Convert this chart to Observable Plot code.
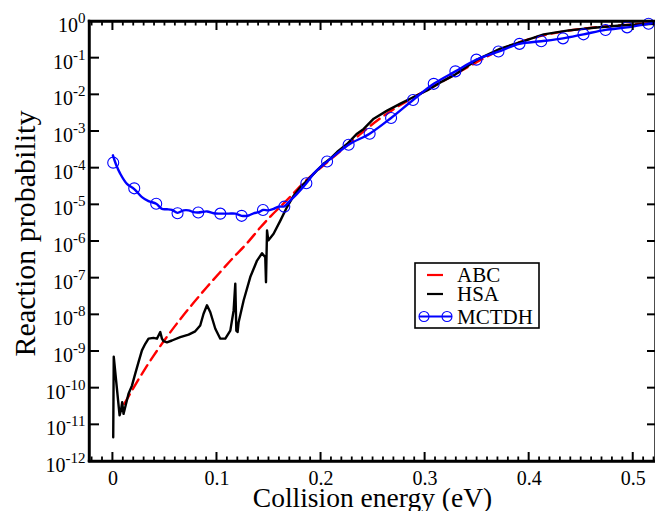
<!DOCTYPE html>
<html><head><meta charset="utf-8">
<script src="https://cdn.jsdelivr.net/npm/d3@7"></script>
<script src="https://cdn.jsdelivr.net/npm/@observablehq/plot@0.6"></script>
<style>html,body{margin:0;padding:0;background:#fff;overflow:hidden}</style>
</head><body><div id="chart"></div>
<script>
// ---- data (log10 of reaction probability) ----
const abcE = [0.0109, 0.0198, 0.0294, 0.039, 0.0519, 0.0647, 0.0775, 0.0904, 0.1032, 0.116, 0.1288, 0.1416, 0.1513, 0.1641, 0.1737, 0.1833, 0.195, 0.205, 0.215, 0.225, 0.235, 0.245, 0.255, 0.265, 0.275, 0.29, 0.305, 0.32, 0.34, 0.36, 0.38, 0.40, 0.42, 0.44, 0.46, 0.48, 0.50, 0.52];
const abcLog = [-10.43, -9.99, -9.54, -9.12, -8.60, -8.12, -7.67, -7.24, -6.83, -6.43, -6.05, -5.62, -5.32, -4.96, -4.68, -4.40, -4.10, -3.86, -3.62, -3.38, -3.14, -2.90, -2.68, -2.48, -2.30, -2.05, -1.82, -1.58, -1.26, -0.95, -0.68, -0.48, -0.34, -0.24, -0.17, -0.12, -0.08, -0.05];

const hsaE = [0.0003, 0.0008, 0.0064, 0.0077, 0.0089, 0.0102, 0.0118, 0.015, 0.0183, 0.0214, 0.0246, 0.0279, 0.0311, 0.0342, 0.039, 0.0423, 0.0455, 0.0471, 0.0487, 0.0519, 0.0567, 0.0647, 0.0727, 0.0791, 0.0839, 0.0871, 0.0904, 0.0936, 0.0984, 0.1032, 0.108, 0.1128, 0.116, 0.1176, 0.1186, 0.1198, 0.1208, 0.1256, 0.132, 0.1385, 0.1433, 0.1464, 0.1471, 0.1481, 0.1493, 0.1544, 0.1609, 0.1673, 0.1737, 0.1801, 0.1865, 0.1945, 0.2025, 0.2089, 0.2154, 0.225, 0.2346, 0.241, 0.2506, 0.2635, 0.2763, 0.289, 0.3019, 0.3147, 0.3275, 0.3404, 0.35, 0.3724, 0.3916, 0.414, 0.4365, 0.4621, 0.4878, 0.5195];
const hsaLog = [-11.34, -9.14, -10.74, -10.61, -10.38, -10.70, -10.52, -10.15, -9.93, -9.61, -9.29, -8.97, -8.79, -8.65, -8.63, -8.65, -8.47, -8.65, -8.72, -8.75, -8.70, -8.61, -8.54, -8.45, -8.29, -7.97, -7.74, -7.93, -8.38, -8.65, -8.65, -8.43, -7.88, -7.15, -8.43, -8.47, -8.20, -7.61, -6.97, -6.52, -6.32, -6.43, -7.11, -5.70, -5.97, -5.79, -5.43, -5.06, -4.75, -4.52, -4.34, -4.11, -3.88, -3.74, -3.56, -3.34, -3.06, -2.93, -2.65, -2.43, -2.24, -2.06, -1.88, -1.66, -1.47, -1.23, -1.04, -0.74, -0.56, -0.35, -0.25, -0.17, -0.11, -0.06];

const mctdhLineE = [0, 0.003, 0.007, 0.0135, 0.0205, 0.0279, 0.0342, 0.0416, 0.0471, 0.0519, 0.0567, 0.0621, 0.0679, 0.0727, 0.0775, 0.082, 0.0904, 0.0967, 0.1032, 0.1112, 0.1176, 0.1237, 0.1304, 0.1352, 0.14, 0.1442, 0.1496, 0.1544, 0.1592, 0.1647, 0.1705, 0.1769, 0.1859, 0.1929, 0.1993, 0.2058, 0.2265, 0.2467, 0.2673, 0.2884, 0.3083, 0.3291, 0.3493, 0.3705, 0.3907, 0.4116, 0.4325, 0.4522, 0.4734, 0.4941, 0.5147, 0.522];
const mctdhLineLog = [-3.65, -3.90, -4.15, -4.43, -4.57, -4.79, -4.90, -4.97, -5.11, -5.12, -5.14, -5.22, -5.15, -5.15, -5.20, -5.21, -5.18, -5.23, -5.24, -5.24, -5.24, -5.30, -5.29, -5.23, -5.20, -5.14, -5.15, -5.11, -5.05, -5.04, -4.88, -4.70, -4.41, -4.15, -3.97, -3.82, -3.36, -3.06, -2.63, -2.14, -1.70, -1.36, -1.04, -0.82, -0.61, -0.54, -0.46, -0.35, -0.23, -0.16, -0.06, -0.03];

const mctdhE = [0.0003, 0.0205, 0.0416, 0.0621, 0.082, 0.1032, 0.1237, 0.1442, 0.1647, 0.1859, 0.2058, 0.2265, 0.2467, 0.2673, 0.2884, 0.3083, 0.3291, 0.3493, 0.3705, 0.3907, 0.4116, 0.4325, 0.4522, 0.4734, 0.4941, 0.5147];
const mctdhLog = [-3.85, -4.55, -4.97, -5.23, -5.21, -5.24, -5.30, -5.14, -5.05, -4.41, -3.82, -3.36, -3.06, -2.63, -2.14, -1.70, -1.36, -1.04, -0.82, -0.61, -0.54, -0.46, -0.35, -0.23, -0.16, -0.06];

// ---- axes ----
const xMajor = [0, 0.1, 0.2, 0.3, 0.4, 0.5];
const xMinor = [-0.02,-0.01,0.01,0.02,0.03,0.04,0.05,0.06,0.07,0.08,0.09,0.11,0.12,0.13,0.14,0.15,0.16,0.17,0.18,0.19,0.21,0.22,0.23,0.24,0.25,0.26,0.27,0.28,0.29,0.31,0.32,0.33,0.34,0.35,0.36,0.37,0.38,0.39,0.41,0.42,0.43,0.44,0.45,0.46,0.47,0.48,0.49,0.51,0.52];
const yExponents = [-12,-11,-10,-9,-8,-7,-6,-5,-4,-3,-2,-1,0];
const yTicks = yExponents.map(e => Math.pow(10, e));
const xDomain = [-0.0225, 0.5214];
const yDomain = [1e-12, 1];

const series = [
  {name: "ABC", color: "#ff0000"},
  {name: "HSA", color: "#000000"},
  {name: "MCTDH", color: "#0000ff"}
];

const toRows = (E, Lg) => E.map((e, i) => ({E: e, p: Math.pow(10, Lg[i])}));
const abc = toRows(abcE, abcLog);
const hsa = toRows(hsaE, hsaLog);
const mLine = toRows(mctdhLineE, mctdhLineLog);
const mDots = toRows(mctdhE, mctdhLog);

const font = "'Liberation Serif', 'Times New Roman', serif";
const K = "black";
const W = 655, H = 511, mL = 89, mR = 0, mT = 21, mB = 50;

const chart = Plot.plot({
  width: W, height: H,
  marginLeft: mL, marginRight: mR, marginTop: mT, marginBottom: mB,
  style: {fontFamily: font, background: "white", color: "black"},
  x: {domain: xDomain, label: null},
  y: {type: "log", domain: yDomain, label: null},
  marks: [
    Plot.frame({stroke: K, strokeWidth: 2.4}),
    // tick labels
    Plot.axisX(xMajor, {anchor: "bottom", tickSize: 0, tickPadding: 9, fontSize: 20, fill: K, tickFormat: d => String(d), label: null}),
    Plot.axisY(yTicks, {anchor: "left", tickSize: 0, tickPadding: 4, dy: 4, fontSize: 20, fill: K, tickFormat: d => "10^" + Math.round(Math.log10(d)), label: null}),
    // series
    Plot.line(abc, {x: "E", y: "p", stroke: series[0].color, strokeWidth: 2.4, strokeDasharray: "11,6", curve: "monotone-x"}),
    Plot.line(hsa, {x: "E", y: "p", stroke: series[1].color, strokeWidth: 2.4, strokeLinejoin: "round"}),
    Plot.line(mLine, {x: "E", y: "p", stroke: series[2].color, strokeWidth: 2.4, curve: "catmull-rom"}),
    Plot.dot(mDots, {x: "E", y: "p", r: 5.5, stroke: series[2].color, strokeWidth: 1.1, fill: "none"}),
    // axis titles
    Plot.text(["Collision energy (eV)"], {frameAnchor: "bottom", text: d => d, dy: 36.4, lineAnchor: "middle", textAnchor: "middle", fontSize: 27.5, fill: K}),
    Plot.text(["Reaction probability"], {frameAnchor: "left", text: d => d, rotate: -90, dx: -64.6, dy: -8, lineAnchor: "middle", textAnchor: "middle", fontSize: 30, fill: K})
  ]
});

const svg = d3.select(chart);

// superscript exponents on y tick labels
svg.selectAll('g[aria-label="y-axis tick label"] text').each(function () {
  const m = /^10\^(-?\d+)$/.exec(this.textContent);
  if (!m) return;
  const t = d3.select(this);
  t.text("10");
  t.append("tspan").attr("dy", -9).attr("font-size", 15).text(m[1]);
});

// inward ticks: positions from scales with the plot's domains and ranges
const px = d3.scaleLinear().domain(xDomain).range([mL, W - mR]);
const py = d3.scaleLog().domain(yDomain).range([H - mB, mT]);
const Lx = px(xDomain[0]), Rx = px(xDomain[1]);
const By = py(yDomain[0]), Ty = py(yDomain[1]);
const ax = svg.append("g");
const seg = (x1, y1, x2, y2, w) => ax.append("line")
  .attr("x1", x1).attr("y1", y1).attr("x2", x2).attr("y2", y2)
  .attr("stroke", K).attr("stroke-width", w);
xMinor.forEach(v => { const x = px(v); seg(x, By, x, By - 4.5, 1.8); seg(x, Ty, x, Ty + 4.5, 1.8); });
xMajor.forEach(v => { const x = px(v); seg(x, By, x, By - 9, 2); seg(x, Ty, x, Ty + 9, 2); });
yTicks.forEach(v => { const y = py(v); seg(Lx, y, Lx + 10, y, 2); seg(Rx, y, Rx - 8, y, 2); });
seg(Lx - 1.2, Ty, Rx, Ty, 2.4);
seg(Lx - 1.2, By, Rx, By, 2.4);
seg(Lx, Ty - 1.2, Lx, By + 1.2, 2.4);

// legend
const lg = svg.append("g").attr("font-family", font).attr("font-size", 21).attr("text-anchor", "start").attr("fill", "black");
lg.append("rect").attr("x", 415).attr("y", 263).attr("width", 124).attr("height", 65)
  .attr("fill", "white").attr("stroke", "black").attr("stroke-width", 1.6);
const rowsY = [275, 294, 316.5];
series.forEach((s, i) => {
  const y = rowsY[i];
  if (s.name === "MCTDH") {
    lg.append("line").attr("x1", 419).attr("x2", 452).attr("y1", y).attr("y2", y).attr("stroke", s.color).attr("stroke-width", 2.2);
    [424, 447].forEach(cx => lg.append("circle").attr("cx", cx).attr("cy", y).attr("r", 5).attr("fill", "none").attr("stroke", s.color).attr("stroke-width", 1.1));
  } else {
    lg.append("line").attr("x1", 427).attr("x2", 443).attr("y1", y).attr("y2", y).attr("stroke", s.color).attr("stroke-width", 2.2);
  }
  lg.append("text").attr("x", 457).attr("y", y + 7).attr("text-anchor", "start").text(s.name);
});

document.getElementById("chart").appendChild(chart);
</script>
</body></html>
